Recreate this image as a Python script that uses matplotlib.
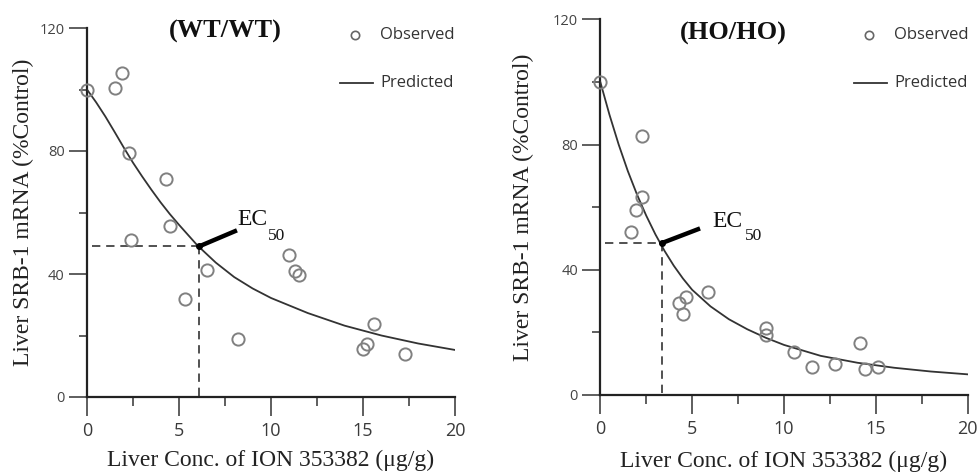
import matplotlib
matplotlib.use("Agg")
import matplotlib.pyplot as plt
from matplotlib.lines import Line2D
from matplotlib.ticker import MultipleLocator, FixedLocator

# ---------------- data ----------------
panel_titles = ["(WT/WT)", "(HO/HO)"]

wt_obs_x = [0, 1.5, 1.9, 2.3, 2.4, 4.3, 4.5, 5.3, 6.5, 8.2, 11.0, 11.3, 11.5, 15.0, 15.2, 15.6, 17.3]
wt_obs_y = [100, 100.5, 105.5, 79.3, 50.9, 70.8, 55.5, 32.0, 41.2, 18.8, 46.1, 41.0, 39.8, 15.7, 17.3, 23.6, 14.1]

ho_obs_x = [0, 1.65, 1.95, 2.25, 2.27, 4.28, 4.48, 4.65, 5.88, 9.0, 9.02, 10.54, 11.5, 12.8, 14.14, 14.4, 15.14]
ho_obs_y = [100, 52.0, 59.1, 63.4, 82.7, 29.3, 25.8, 31.4, 33.0, 19.2, 21.3, 13.6, 8.8, 9.9, 16.7, 8.2, 8.8]

curve_x = [0, 0.5, 1, 1.5, 2, 2.5, 3, 3.5, 4, 4.5, 5, 6, 7, 8, 9, 10, 12, 14, 16, 18, 20]
wt_pred_y = [100, 95.8, 91.2, 86.2, 81.1, 76.2, 71.7, 67.4, 63.3, 59.5, 56.0, 49.3, 43.7, 39.0, 35.3,
             32.2, 27.3, 23.2, 20.0, 17.4, 15.3]
ho_pred_y = [100, 89.5, 80.0, 71.5, 64.0, 57.3, 51.3, 46.0, 41.3, 37.2, 33.6, 28.3, 24.2, 21.0, 18.3,
             16.0, 12.5, 10.3, 8.7, 7.5, 6.6]

ec50_x = [6.1, 3.34]
ec50_y = [49.0, 48.5]

x_ticks = [0, 5, 10, 15, 20]
y_ticks = [0, 40, 80, 120]

xlabel = "Liver Conc. of ION 353382 (\u03bcg/g)"
ylabel = "Liver SRB-1 mRNA (%Control)"

# ---------------- style ----------------
SERIF = ["Liberation Serif", "DejaVu Serif"]
SANS = ["Open Sans", "DejaVu Sans"]

W, H = 977, 472
fig = plt.figure(figsize=(W / 100, H / 100), dpi=100)

def fx(px):
    return px / W

def fy(py):
    return 1 - py / H

axes_px = [(87, 28, 455, 397), (600.3, 19.3, 967.7, 395)]
obs = [(wt_obs_x, wt_obs_y), (ho_obs_x, ho_obs_y)]
preds = [wt_pred_y, ho_pred_y]
ptr_end = [(8.15, 54.2), (5.43, 53.2)]
ec_text = [(8.15, 57.6), (6.1, 55.3)]
sub_text = [(9.84, 52.4), (7.88, 50.9)]
title_px = [(225, 31), (733, 33)]
legend_px = [(340, 380), (854, 894)]
ylabel_off = [-0.174, -0.208]
xlabel_off = [-0.171, -0.178]

for i in range(2):
    l, t, r, b = axes_px[i]
    ax = fig.add_axes([fx(l), fy(b), fx(r) - fx(l), fy(t) - fy(b)])
    ax.set_xlim(0, 20)
    ax.set_ylim(0, 120)
    for s in ["top", "right"]:
        ax.spines[s].set_visible(False)
    for s in ["left", "bottom"]:
        ax.spines[s].set_linewidth(1.6)
        ax.spines[s].set_color("#222222")

    ax.xaxis.set_major_locator(FixedLocator(x_ticks))
    ax.xaxis.set_minor_locator(MultipleLocator(2.5))
    ax.yaxis.set_major_locator(FixedLocator(y_ticks))
    ax.yaxis.set_minor_locator(MultipleLocator(20))
    ax.tick_params(axis="x", which="major", direction="out", length=14, width=1.1,
                   color="#333333", labelsize=13, labelcolor="#3a3a3a", pad=4)
    ax.tick_params(axis="x", which="minor", direction="out", length=6.5, width=1.1, color="#333333")
    ax.tick_params(axis="y", which="major", direction="out", length=13, width=1.1,
                   color="#333333", labelsize=10.5, labelcolor="#444444", pad=3)
    ax.tick_params(axis="y", which="minor", direction="out", length=6, width=1.1, color="#333333")
    for lab in ax.get_xticklabels() + ax.get_yticklabels():
        lab.set_family(SANS)

    # predicted curve
    ax.plot(curve_x, preds[i], color="#333333", lw=1.3, zorder=3)
    # observed points
    ox, oy = obs[i]
    ax.plot(ox, oy, linestyle="none", marker="o", ms=8.8, mfc="none", mec="#808080",
            mew=1.4, zorder=4, clip_on=False)

    # EC50 guide lines
    ex, ey = ec50_x[i], ec50_y[i]
    ax.plot([0.25, ex], [ey, ey], color="#333333", lw=1.2, ls=(0, (5, 3.5)), zorder=2)
    ax.plot([ex, ex], [ey, 0], color="#333333", lw=1.2, ls=(0, (5, 3.5)), zorder=2)
    px_, py_ = ptr_end[i]
    ax.plot([ex, px_], [ey, py_], color="black", lw=3.2, solid_capstyle="butt", zorder=5)
    ax.plot([ex], [ey], marker="o", ms=4, color="black", zorder=5)
    tx, ty = ec_text[i]
    ax.text(tx, ty, "EC", family=SERIF, fontsize=17, ha="left", va="center", color="#111111")
    sx, sy = sub_text[i]
    ax.text(sx, sy, "50", family=SERIF, fontsize=12.5, ha="left", va="center", color="#111111")

    # labels
    ax.set_xlabel(xlabel, family=SERIF, fontsize=17, color="#222222")
    ax.xaxis.set_label_coords(0.5, xlabel_off[i])
    ax.xaxis.label.set_va("center")
    ax.set_ylabel(ylabel, family=SERIF, fontsize=17, color="#222222")
    ax.yaxis.set_label_coords(ylabel_off[i], 0.5)
    ax.yaxis.label.set_va("center")

    # title
    tpx, tpy = title_px[i]
    fig.text(fx(tpx), fy(tpy), panel_titles[i], family=SERIF, fontsize=19, fontweight="bold",
             ha="center", va="center", color="#111111")

    # legend
    lx, tx2 = legend_px[i]
    fig.add_artist(Line2D([fx(lx + 15)], [fy(35)], marker="o", ms=6, mfc="none", mec="#666666",
                          mew=1.2, linestyle="none", transform=fig.transFigure))
    fig.text(fx(tx2), fy(35), "Observed", family=SANS, fontsize=12, ha="left", va="center",
             color="#333333")
    fig.add_artist(Line2D([fx(lx), fx(lx + 33)], [fy(83), fy(83)], color="#333333", lw=1.3,
                          transform=fig.transFigure))
    fig.text(fx(tx2), fy(83), "Predicted", family=SANS, fontsize=12, ha="left", va="center",
             color="#333333")

fig.savefig("out.png", dpi=100)
